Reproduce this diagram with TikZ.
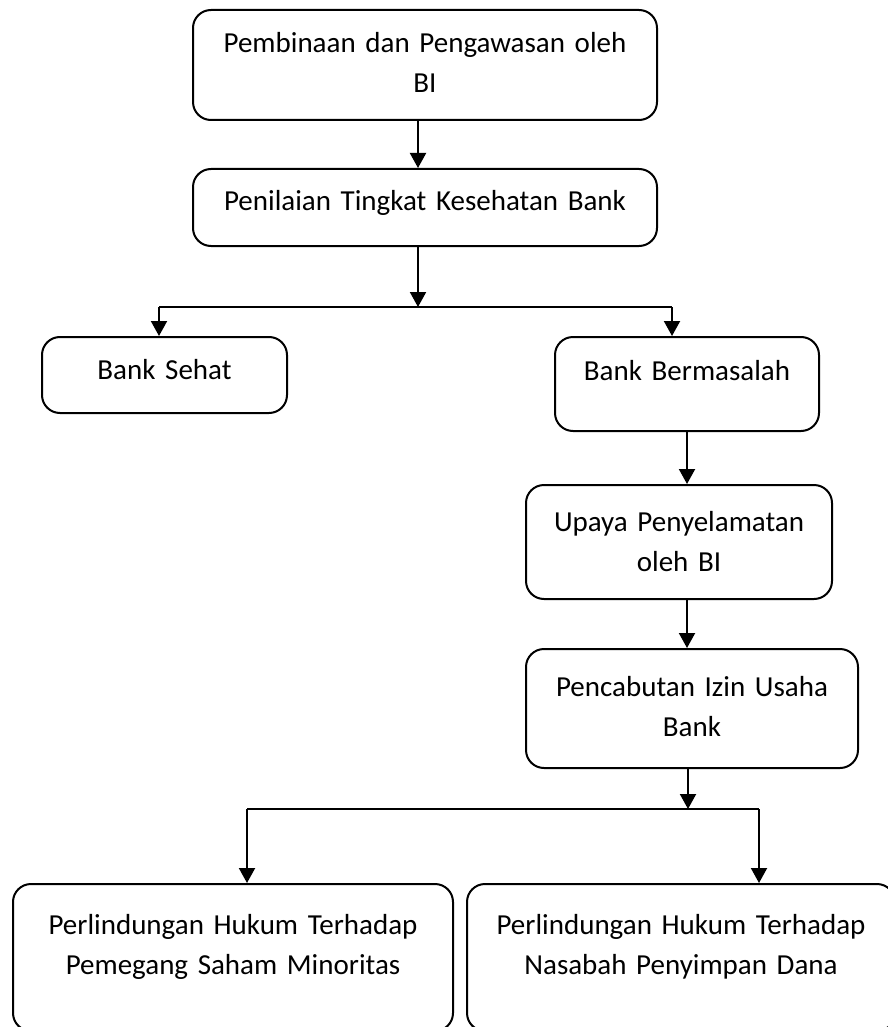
\documentclass[tikz,border=0pt]{standalone}
\usepackage{fontspec}
\setmainfont{Carlito}
\usepackage{tikz}
\usetikzlibrary{arrows.meta, positioning, calc}
\definecolor{garis}{HTML}{000000}

\begin{document}
\begin{tikzpicture}[x=1pt, y=-1pt,
    kotak/.style={draw=garis, line width=2pt, rounded corners=18pt, inner sep=0pt,
      anchor=north, align=center, font=\fontsize{29}{40}\selectfont},
    panah/.style={draw=garis, line width=2pt, -{Triangle[length=15pt, width=16pt]}},
    garisan/.style={draw=garis, line width=2pt}]
  \fill[white] (0,0) rectangle (887,1027);
  \useasboundingbox (0,0) rectangle (887,1027);

  % Pengawasan dan penilaian
  \node[kotak, text width=464pt, text height=43pt, text depth=67pt] (pembinaan) at (425,9)
    {Pembinaan dan Pengawasan oleh\\BI};
  \node[kotak, text width=464pt, text height=42pt, text depth=35pt] (penilaian) at (425,168)
    {Penilaian Tingkat Kesehatan Bank};

  % Hasil penilaian
  \node[kotak, text width=245pt, text height=42pt, text depth=34pt] (sehat) at (164.5,336)
    {Bank Sehat};
  \node[kotak, text width=264pt, text height=43pt, text depth=51pt] (bermasalah) at (687,336)
    {Bank Bermasalah};
  \node[kotak, text width=306pt, text height=46pt, text depth=68pt] (upaya) at (679,484)
    {Upaya Penyelamatan\\oleh BI};
  \node[kotak, text width=332pt, text height=47pt, text depth=72pt] (pencabutan) at (692,648)
    {Pencabutan Izin Usaha\\Bank};

  % Perlindungan hukum
  \node[kotak, text width=440pt, text height=50pt, text depth=97pt] (saham) at (233,883)
    {Perlindungan Hukum Terhadap\\Pemegang Saham Minoritas};
  \node[kotak, text width=428pt, text height=50pt, text depth=97pt] (nasabah) at (681,883)
    {Perlindungan Hukum Terhadap\\Nasabah Penyimpan Dana};

  % Titik cabang
  \coordinate (cabang1) at (418,307);
  \coordinate (kiri1) at (159,307);
  \coordinate (kanan1) at (672,307);
  \coordinate (tengah) at (687,0);
  \coordinate (cabang2) at (688,809);
  \coordinate (kiri2) at (247,809);
  \coordinate (kanan2) at (759,809);

  % Panah
  \draw[panah] (cabang1 |- pembinaan.south) -- (cabang1 |- penilaian.north);
  \draw[panah] (cabang1 |- penilaian.south) -- (cabang1);
  \draw[garisan] (kiri1) -- (kanan1);
  \draw[panah] (kiri1) -- (kiri1 |- sehat.north);
  \draw[panah] (kanan1) -- (kanan1 |- bermasalah.north);
  \draw[panah] (tengah |- bermasalah.south) -- (tengah |- upaya.north);
  \draw[panah] (tengah |- upaya.south) -- (tengah |- pencabutan.north);
  \draw[panah] (cabang2 |- pencabutan.south) -- (cabang2);
  \draw[garisan] (kiri2) -- (kanan2);
  \draw[panah] (kiri2) -- (kiri2 |- saham.north);
  \draw[panah] (kanan2) -- (kanan2 |- nasabah.north);
\end{tikzpicture}
\end{document}
